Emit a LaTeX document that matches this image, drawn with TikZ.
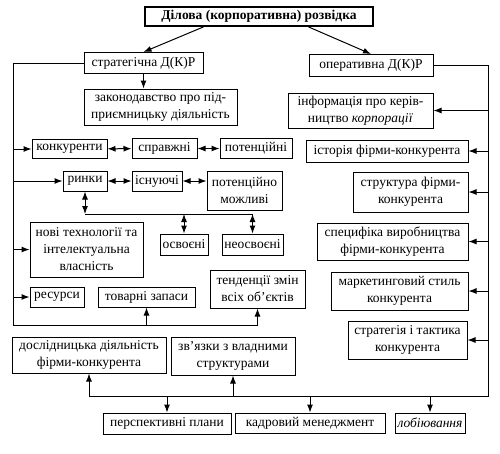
\documentclass[tikz,border=0pt]{standalone}
\usepackage{fontspec}
\setmainfont{Liberation Serif}
\usetikzlibrary{arrows.meta}

\begin{document}
\begin{tikzpicture}[x=1pt, y=-1pt, >={Latex[length=8pt,width=6pt]}, line width=1pt,
    box/.style={draw, align=center, inner sep=1pt, font=\fontsize{13.5}{17}\selectfont}]
      \path[use as bounding box] (0, 0) rectangle (500, 453);

      \node[box, line width=1.8pt, minimum width=228pt, minimum height=19pt] (title) at (259, 16.5) {\bfseries Ділова (корпоративна) розвідка};
      \node[box, minimum width=119pt, minimum height=21pt] (strat) at (143.5, 63) {стратегічна Д(К)Р};
      \node[box, minimum width=124pt, minimum height=22pt] (oper) at (371, 65.5) {оперативна Д(К)Р};
      \draw[->] (title.south -| strat.north east) -- (strat.north);
      \draw[->] (title.south -| oper.north west) -- (oper.north);

      \begin{scope}
        \node[box, minimum width=153pt, minimum height=36pt] (zakon) at (160.5, 107) {законодавство про під-\\приємницьку діяльність};
        \node[box, minimum width=75pt, minimum height=19pt] (konk) at (69.5, 149) {конкуренти};
        \node[box, minimum width=65pt, minimum height=20pt] (sprav) at (164.5, 148.5) {справжні};
        \node[box, minimum width=72pt, minimum height=20pt] (poten) at (256, 148.5) {потенційні};
        \node[box, minimum width=44pt, minimum height=20pt] (rynky) at (85, 181) {ринки};
        \node[box, minimum width=50pt, minimum height=20pt] (isnuy) at (157, 181) {існуючі};
        \node[box, minimum width=75pt, minimum height=39pt] (potmozh) at (244.5, 190.5) {потенційно\\можливі};
        \node[box, minimum width=113pt, minimum height=55pt] (novi) at (86.5, 249.5) {нові технології та\\інтелектуальна\\власність};
        \node[box, minimum width=48pt, minimum height=21pt] (osvo) at (184, 244.5) {освоєні};
        \node[box, minimum width=61pt, minimum height=21pt] (neosvo) at (252.5, 244.5) {неосвоєні};
        \node[box, minimum width=54pt, minimum height=20pt] (resursy) at (57, 297) {ресурси};
        \node[box, minimum width=97pt, minimum height=20pt] (tovarni) at (146.5, 297) {товарні запаси};
        \node[box, minimum width=95pt, minimum height=38pt] (tend) at (257.5, 289) {тенденції змін\\всіх об’єктів};

        \coordinate (ltop) at (13, 63);
        \coordinate (lbot) at (13, 325);
        \coordinate (mline) at (84, 214);
        \draw[->] (strat.south) -- (strat.south |- zakon.north);
        \draw (strat.west) -- (ltop) -- (lbot) -- (lbot -| tend.south);
        \foreach \n in {konk, rynky, novi, resursy} {
          \draw[->] (ltop |- \n) -- (\n.west);
        }
        \foreach \n in {tovarni, tend} {
          \draw[->] (lbot -| \n.south) -- (\n.south);
        }
        \draw[<->] (konk) -- (sprav);
        \draw[<->] (sprav) -- (poten);
        \draw[<->] (rynky) -- (isnuy);
        \draw[<->] (isnuy.east) -- (isnuy.east -| potmozh.west);
        \draw[<->] (rynky.south) -- (rynky.south |- mline);
        \draw (rynky.south |- mline) -- (mline -| neosvo.north);
        \foreach \n in {osvo, neosvo} {
          \draw[<->] (mline -| \n.north) -- (\n.north);
        }
      \end{scope}

      \begin{scope}
        \node[box, minimum width=145pt, minimum height=35pt] (info) at (360.5, 110.5) {інформація про керів-\\ництво \textit{корпорації}};
        \node[box, minimum width=162pt, minimum height=22pt] (istor) at (387, 151) {історія фірми-конкурента};
        \node[box, minimum width=115pt, minimum height=40pt] (struct) at (410.5, 192) {структура фірми-\\конкурента};
        \node[box, minimum width=151pt, minimum height=37pt] (specyf) at (392.5, 241.5) {специфіка виробництва\\фірми-конкурента};
        \node[box, minimum width=137pt, minimum height=38pt] (market) at (399.5, 291) {маркетинговий стиль\\конкурента};
        \node[box, minimum width=119pt, minimum height=38pt] (strateg) at (407.5, 340) {стратегія і тактика\\конкурента};
        \node[box, minimum width=154pt, minimum height=36pt] (dosl) at (89, 355) {дослідницька діяльність\\фірми-конкурента};
        \node[box, minimum width=124pt, minimum height=38pt] (zvyaz) at (233, 356) {зв’язки з владними\\структурами};
        \node[box, minimum width=128pt, minimum height=21pt] (persp) at (167, 423.5) {перспективні плани};
        \node[box, minimum width=150pt, minimum height=20pt] (kadr) at (310, 423) {кадровий менеджмент};
        \node[box, minimum width=70pt, minimum height=20pt] (lobi) at (430, 423) {\textit{лобіювання}};

        \coordinate (rtop) at (488, 65.5);
        \coordinate (rbot) at (488, 396);
        \draw (oper.east) -- (rtop) -- (rbot) -- (rbot -| dosl.south);
        \foreach \n in {info, istor, struct, specyf, market, strateg} {
          \draw[->] (rtop |- \n) -- (\n.east);
        }
        \foreach \n in {dosl, zvyaz} {
          \draw[->] (rbot -| \n.south) -- (\n.south);
        }
        \foreach \n in {persp, kadr, lobi} {
          \draw[->] (rbot -| \n.north) -- (\n.north);
        }
      \end{scope}
    \end{tikzpicture}
\end{document}
